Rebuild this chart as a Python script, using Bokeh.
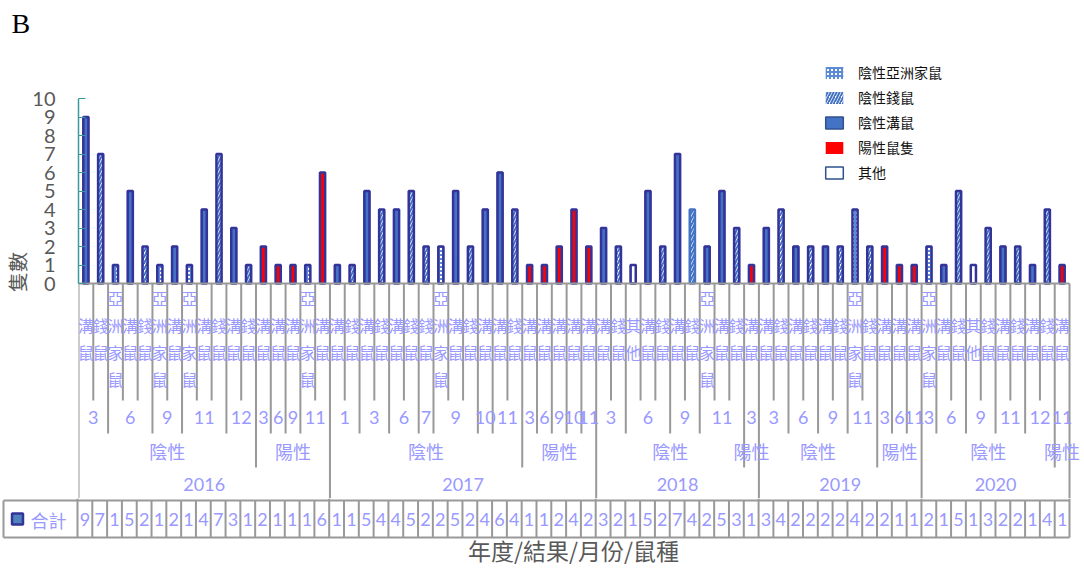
from bokeh.plotting import figure
from bokeh.layouts import column
from bokeh.models import Range1d, FixedTicker, ColumnDataSource
from bokeh.core.properties import value
from bokeh.embed import file_html
from bokeh.resources import INLINE

# ---------------- data ----------------
YEAR = (["2016"] * 17 + ["2017"] * 18 + ["2018"] * 11 + ["2019"] * 11 + ["2020"] * 10)
RESULT = (["陰性"] * 12 + ["陽性"] * 5 +
          ["陰性"] * 13 + ["陽性"] * 5 +
          ["陰性"] * 10 + ["陽性"] * 1 +
          ["陰性"] * 8 + ["陽性"] * 3 +
          ["陰性"] * 9 + ["陽性"] * 1)
MONTH = ["3", "3", "6", "6", "6", "9", "9", "11", "11", "11", "12", "12", "3", "6", "9", "11", "11",
         "1", "1", "3", "3", "6", "6", "7", "9", "9", "9", "10", "11", "11", "3", "6", "9", "10", "11",
         "3", "3", "6", "6", "6", "9", "9", "11", "11", "11", "3",
         "3", "3", "6", "6", "9", "9", "11", "11", "3", "6", "11",
         "3", "6", "6", "9", "9", "11", "11", "12", "12", "11"]
SPECIES = ["溝鼠", "錢鼠", "亞洲家鼠", "溝鼠", "錢鼠", "亞洲家鼠", "溝鼠", "亞洲家鼠", "溝鼠", "錢鼠", "溝鼠", "錢鼠",
           "溝鼠", "溝鼠", "溝鼠", "亞洲家鼠", "溝鼠",
           "溝鼠", "錢鼠", "溝鼠", "錢鼠", "溝鼠", "錢鼠", "錢鼠", "亞洲家鼠", "溝鼠", "錢鼠", "溝鼠", "溝鼠", "錢鼠",
           "溝鼠", "溝鼠", "溝鼠", "溝鼠", "溝鼠",
           "溝鼠", "錢鼠", "其他", "溝鼠", "錢鼠", "溝鼠", "錢鼠", "亞洲家鼠", "溝鼠", "錢鼠", "溝鼠",
           "溝鼠", "錢鼠", "溝鼠", "錢鼠", "溝鼠", "錢鼠", "亞洲家鼠", "錢鼠", "溝鼠", "溝鼠", "溝鼠",
           "亞洲家鼠", "溝鼠", "錢鼠", "其他", "錢鼠", "溝鼠", "錢鼠", "溝鼠", "錢鼠", "溝鼠"]
COUNT = [9, 7, 1, 5, 2, 1, 2, 1, 4, 7, 3, 1, 2, 1, 1, 1, 6,
         1, 1, 5, 4, 4, 5, 2, 2, 5, 2, 4, 6, 4, 1, 1, 2, 4, 2,
         3, 2, 1, 5, 2, 7, 4, 2, 5, 3, 1,
         3, 4, 2, 2, 2, 2, 4, 2, 2, 1, 1,
         2, 1, 5, 1, 3, 2, 2, 1, 4, 1]
A, Q, G, P, O = "陰性亞洲家鼠", "陰性錢鼠", "陰性溝鼠", "陽性鼠隻", "其他"
SERIES = [G, Q, A, G, Q, A, G, A, G, Q, G, Q, P, P, P, A, P,
          G, Q, G, Q, G, Q, Q, A, G, Q, G, G, Q, P, P, P, P, P,
          G, Q, O, G, Q, G, Q, G, G, Q, P,
          G, Q, G, Q, G, Q, A, Q, P, P, P,
          A, G, Q, O, Q, G, Q, G, Q, P]
SERIES_ORDER = [A, Q, G, P, O]
TOTAL_LABEL = "合計"
X_TITLE = "年度/結果/月份/鼠種"
Y_TITLE = "隻數"
YTICKS = [0, 1, 2, 3, 4, 5, 6, 7, 8, 9, 10]
N = len(COUNT)

# ---------------- layout constants (page pixels) ----------------
FIG_W = 1084
FRAME_L = 77          # page x of plot frame left
CW = 992.0 / N        # pixel width of one category
FRAME_W = FIG_W - FRAME_L
XEND = FRAME_W / CW
TOP_BORDER = 45
A_TOP, A_BOT = 0, 498
BASE, PXU = 283.0, 18.5


def yv(py):
    return (BASE - py) / PXU


NAVY = "#333399"
LBL = "#9999FF"
GRAY = "#999999"
AXG = "#595959"
TEAL = "#3A9A9A"
CJK = "Noto Sans CJK TC"
NUM = "Lato"
BAR_W = 0.35

STYLE = {
    A: dict(fill_color="white", hatch_pattern="+", hatch_color="#5B8BD6", hatch_scale=4, hatch_weight=2, line_color=None),
    Q: dict(fill_color="white", hatch_pattern="/", hatch_color="#4472C4", hatch_scale=6, hatch_weight=2, line_color=None),
    G: dict(fill_color="#4472C4", line_color="#2F528F", line_width=1.5),
    P: dict(fill_color="#FF0000", line_color=None),
    O: dict(fill_color="white", line_color="#2F528F", line_width=1.5),
}
LIGHT_OUTLINE = {41}

# ---------------- figure A: bars + category axis ----------------
p = figure(width=FIG_W, height=A_BOT - A_TOP, x_range=Range1d(0, XEND),
           y_range=Range1d(yv(A_BOT), yv(A_TOP + TOP_BORDER)),
           x_axis_location=None, toolbar_location=None, output_backend="svg",
           min_border_left=FRAME_L, min_border_right=0, min_border_top=TOP_BORDER,
           min_border_bottom=0, outline_line_color=None, title="B", frame_align=False)
p.grid.visible = False
p.title.text_font = "Liberation Serif"
p.title.text_font_size = "28px"
p.title.text_font_style = "normal"
p.title.text_color = "#000000"
p.title.align = "left"
p.title.offset = -67
p.title.vertical_align = "top"

ax = p.yaxis[0]
ax.ticker = FixedTicker(ticks=YTICKS)
ax.bounds = (0, 10)
ax.major_tick_in = 7
ax.major_tick_out = 0
ax.minor_tick_line_color = None
ax.axis_line_color = TEAL
ax.axis_line_width = 1.5
ax.major_tick_line_color = TEAL
ax.major_label_text_font = NUM
ax.major_label_text_font_size = "20px"
ax.major_label_text_color = AXG
ax.major_label_standoff = 23
ax.axis_label = Y_TITLE
ax.axis_label_text_font = CJK
ax.axis_label_text_font_size = "20px"
ax.axis_label_text_font_style = "normal"
ax.axis_label_text_color = AXG
ax.axis_label_standoff = -3

for name in SERIES_ORDER:
    idx = [i for i, s in enumerate(SERIES) if s == name]
    src = ColumnDataSource(dict(x=[i + 0.5 for i in idx], top=[COUNT[i] for i in idx]))
    p.vbar(x="x", top="top", bottom=0, width=BAR_W, source=src, legend_label=name, **STYLE[name])

tsrc = ColumnDataSource(dict(x=[i + 0.5 for i in range(N)], top=COUNT,
                             lc=["#4472C4" if i in LIGHT_OUTLINE else NAVY for i in range(N)]))
p.vbar(x="x", top="top", bottom=0, width=BAR_W, source=tsrc, fill_color=None,
       line_color="lc", line_width=2.5)

lg = p.legend[0]
lg.location = (745, 316)
lg.border_line_color = None
lg.background_fill_alpha = 0
lg.label_text_font = CJK
lg.label_text_font_size = "14px"
lg.label_text_color = "#111111"
lg.glyph_width = 22
lg.glyph_height = 15
lg.label_height = 15
lg.label_standoff = 13
lg.spacing = 5
lg.padding = 0
lg.margin = 0

# baseline of category axis
p.segment(x0=[0], y0=[0], x1=[N], y1=[0], line_color=GRAY, line_width=2)


def runs(keys):
    out = []
    s = 0
    for i in range(1, N + 1):
        if i == N or keys[i] != keys[s]:
            out.append((s, i))
            s = i
    return out


DEPTH_PX = {"species": 400, "month": 433, "result": 467, "year": 505}
bx, by = [], []
depths = []
for k in range(N + 1):
    if k in (0, N) or YEAR[k - 1] != YEAR[k]:
        d = "year"
    elif RESULT[k - 1] != RESULT[k]:
        d = "result"
    elif MONTH[k - 1] != MONTH[k]:
        d = "month"
    else:
        d = "species"
    depths.append(d)
    bx.append(k)
    by.append(yv(DEPTH_PX[d]))
p.segment(x0=bx, y0=[0] * len(bx), x1=bx, y1=by, line_color=GRAY, line_width=2)

# species labels (stacked vertically)
p.text(x=[i + 0.5 for i in range(N)], y=[yv(338)] * N, text=["\n".join(s) for s in SPECIES],
       text_font=value(CJK), text_font_size="16px", text_color=LBL, text_align="center",
       text_baseline="middle", text_line_height=1.12)

mk = list(zip(YEAR, RESULT, MONTH))
mr = runs(mk)
p.text(x=[(a + b) / 2 for a, b in mr], y=[yv(416.5)] * len(mr), text=[MONTH[a] for a, b in mr],
       text_font=value(NUM), text_font_size="18px", text_color=LBL, text_align="center",
       text_baseline="middle")
rr = runs(list(zip(YEAR, RESULT)))
p.text(x=[(a + b) / 2 for a, b in rr], y=[yv(450)] * len(rr), text=[RESULT[a] for a, b in rr],
       text_font=value(CJK), text_font_size="18px", text_color=LBL, text_align="center",
       text_baseline="middle")
yr = runs(YEAR)
p.text(x=[(a + b) / 2 for a, b in yr], y=[yv(483.5)] * len(yr), text=[YEAR[a] for a, b in yr],
       text_font=value(NUM), text_font_size="18px", text_color=LBL, text_align="center",
       text_baseline="middle")

# ---------------- figure B: data table + axis title ----------------
B_TOP, B_BOT = 498, 568


def xb(px):
    return (px - FRAME_L) / CW


q = figure(width=FIG_W, height=B_BOT - B_TOP, x_range=Range1d(xb(0), XEND),
           y_range=Range1d(B_BOT, B_TOP), x_axis_location=None, y_axis_location=None,
           toolbar_location=None, output_backend="svg", min_border=0, outline_line_color=None,
           title=None, frame_align=False)
q.grid.visible = False

T_TOP, T_BOT = 500, 537
q.segment(x0=[xb(3)] * 2, y0=[T_TOP, T_BOT], x1=[N] * 2, y1=[T_TOP, T_BOT], line_color=GRAY, line_width=2)
vx = [xb(3)] + list(range(N + 1))
vy0 = [T_TOP] + [B_TOP if d == "year" else T_TOP for d in depths]
q.segment(x0=vx, y0=vy0, x1=vx, y1=[T_BOT] * len(vx), line_color=GRAY, line_width=2)
q.text(x=[i + 0.5 for i in range(N)], y=[519] * N, text=[str(c) for c in COUNT],
       text_font=value(NUM), text_font_size="18px", text_color=LBL, text_align="center",
       text_baseline="middle")
q.rect(x=[xb(17)], y=[518.5], width=11, height=11, width_units="screen", height_units="screen",
       fill_color="#4F81BD", line_color=NAVY, line_width=2.5)
q.text(x=[xb(48)], y=[519], text=[TOTAL_LABEL], text_font=value(CJK), text_font_size="18px",
       text_color=LBL, text_align="center", text_baseline="middle")
q.text(x=[N / 2], y=[549], text=[X_TITLE], text_font=value(CJK), text_font_size="23px",
       text_color=AXG, text_align="center", text_baseline="middle")

layout = column(p, q, spacing=0)
open("out.html", "w").write(file_html(layout, INLINE))
